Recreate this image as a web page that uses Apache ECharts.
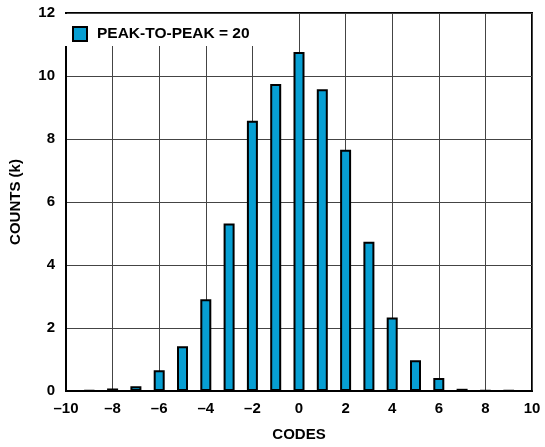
<!DOCTYPE html>
<html>
<head>
<meta charset="utf-8">
<script src="https://cdn.jsdelivr.net/npm/echarts@6/dist/echarts.min.js"></script>
<style>html,body{margin:0;padding:0;background:#fff;}#c{width:545px;height:447px;}</style>
</head>
<body>
<div id="c"></div>
<script>
var codes = [-9, -8, -7, -6, -5, -4, -3, -2, -1, 0, 1, 2, 3, 4, 5, 6, 7, 8, 9];
var counts = [0.02, 0.08, 0.15, 0.66, 1.42, 2.91, 5.32, 8.58, 9.75, 10.76, 9.58, 7.66, 4.74, 2.33, 0.98, 0.41, 0.07, 0.01, 0.01];
var xTicks = [-10, -8, -6, -4, -2, 0, 2, 4, 6, 8, 10];
var yTicks = [0, 2, 4, 6, 8, 10, 12];
var seriesName = 'PEAK-TO-PEAK = 20';

var font = 'Liberation Sans, Arial, sans-serif';
var data = codes.map(function (c, i) { return [c, counts[i]]; });
function fmt(v) { return v < 0 ? '\u2013' + Math.abs(v) : String(v); }

var chart = echarts.init(document.getElementById('c'));
chart.setOption({
  animation: false,
  backgroundColor: '#fff',
  grid: { left: 61, right: 13, top: 13, bottom: 55, show: true, borderColor: '#000', borderWidth: 2, backgroundColor: 'transparent' },
  legend: {
    left: 62, top: 14,
    padding: [12, 4, 4, 10],
    backgroundColor: '#fff',
    itemWidth: 14, itemHeight: 14, itemGap: 10,
    icon: 'rect',
    textStyle: { fontFamily: font, fontWeight: 'bold', fontSize: 15.5, color: '#000', padding: [0, 0, 0, 5] },
    data: [seriesName]
  },
  xAxis: {
    type: 'value',
    min: xTicks[0], max: xTicks[xTicks.length - 1], interval: 2,
    name: 'CODES', nameLocation: 'middle', nameGap: 36,
    nameTextStyle: { fontFamily: font, fontWeight: 'bold', fontSize: 15, color: '#000' },
    axisLine: { show: true, onZero: false, lineStyle: { color: '#000', width: 2 } },
    axisTick: { show: false },
    axisLabel: { formatter: fmt, margin: 10, fontFamily: font, fontWeight: 'bold', fontSize: 15, color: '#000' },
    splitLine: { show: true, lineStyle: { color: '#444', width: 1 } }
  },
  yAxis: {
    type: 'value',
    min: yTicks[0], max: yTicks[yTicks.length - 1], interval: 2,
    name: 'COUNTS (k)', nameLocation: 'middle', nameGap: 43, nameRotate: 90,
    nameTextStyle: { fontFamily: font, fontWeight: 'bold', fontSize: 15, color: '#000' },
    axisLine: { show: true, onZero: false, lineStyle: { color: '#000', width: 2 } },
    axisTick: { show: false },
    axisLabel: { margin: 11, fontFamily: font, fontWeight: 'bold', fontSize: 15, color: '#000' },
    splitLine: { show: true, lineStyle: { color: '#444', width: 1 } }
  },
  series: [{
    name: seriesName,
    type: 'bar',
    barWidth: 11,
    data: data,
    z: 3,
    itemStyle: { color: '#079FD3', borderColor: '#000', borderWidth: 2 }
  }]
});
</script>
</body>
</html>
